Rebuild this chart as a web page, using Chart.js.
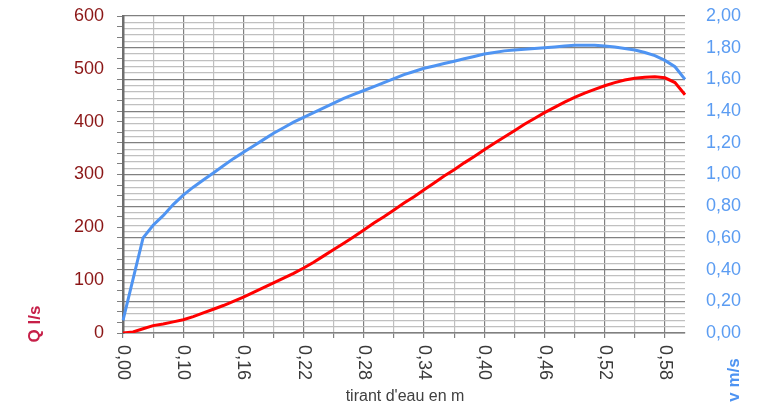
<!DOCTYPE html>
<html lang="fr">
<head>
<meta charset="utf-8">
<title>Q et v en fonction du tirant d'eau</title>
<script src="https://cdn.jsdelivr.net/npm/chart.js@4.4.1/dist/chart.umd.min.js"></script>
<style>
    html, body { margin: 0; padding: 0; background: #ffffff; }
    #wrap { width: 763px; height: 411px; position: relative; }
</style>
</head>
<body>
<div id="wrap"><canvas id="hydroChart"></canvas></div>
<script>
// tirant d'eau (m) - categories of the x axis
const depths = ['0,00', '0,05', '0,06', '0,07', '0,08', '0,09', '0,10', '0,11', '0,12', '0,13',
    '0,14', '0,15', '0,16', '0,17', '0,18', '0,19', '0,20', '0,21', '0,22', '0,23',
    '0,24', '0,25', '0,26', '0,27', '0,28', '0,29', '0,30', '0,31', '0,32', '0,33',
    '0,34', '0,35', '0,36', '0,37', '0,38', '0,39', '0,40', '0,41', '0,42', '0,43',
    '0,44', '0,45', '0,46', '0,47', '0,48', '0,49', '0,50', '0,51', '0,52', '0,53',
    '0,54', '0,55', '0,56', '0,57', '0,58', '0,59', '0,60'];

// debit Q (l/s)
const flow = [0, 2, 8, 14, 17, 21, 25, 31, 38, 45,
    52, 60, 68, 77, 86, 95, 104, 113, 123, 134,
    146, 158, 170, 182, 195, 208, 220, 233, 246, 258,
    271, 284, 297, 309, 322, 334, 347, 359, 371, 383,
    395, 406, 417, 427, 437, 446, 454, 461, 468, 474,
    479, 482, 484, 485, 483, 474, 451];

// vitesse v (m/s)
const speed = [0.08, 0.34, 0.60, 0.68, 0.74, 0.81, 0.87, 0.92, 0.965, 1.01,
    1.055, 1.10, 1.14, 1.18, 1.22, 1.26, 1.295, 1.33, 1.36, 1.39,
    1.42, 1.45, 1.48, 1.505, 1.53, 1.555, 1.58, 1.605, 1.63, 1.65,
    1.67, 1.685, 1.70, 1.715, 1.73, 1.745, 1.76, 1.77, 1.78, 1.785,
    1.79, 1.795, 1.80, 1.805, 1.81, 1.815, 1.815, 1.815, 1.81, 1.805,
    1.795, 1.785, 1.77, 1.75, 1.72, 1.68, 1.60];

const FONT = '"Liberation Sans", Arial, sans-serif';
const DARK_GRID = '#808080';
const LIGHT_GRID = '#c0c0c0';

// fixed box sizes so the plot area sits where the original one does
function fitVertical(width) {
    return s => {
        s.width = width;
        s.paddingTop = 16;
        s.paddingBottom = 0;
    };
}

document.addEventListener('DOMContentLoaded', () => {
    // x tick labels (rotated clockwise) and the three axis titles
    const labelsPlugin = {
        id: 'labelsPlugin',
        afterDraw(chart) {
            const c = chart.ctx;
            const xs = chart.scales.x;
            c.save();
            c.fillStyle = '#3a3a3a';
            c.font = '18px ' + FONT;
            c.textAlign = 'left';
            c.textBaseline = 'middle';
            depths.forEach((d, i) => {
                if (i % 6 !== 0) return;
                const px = xs.getPixelForTick(i);
                c.save();
                c.translate(px, chart.chartArea.bottom + 12);
                c.rotate(Math.PI / 2);
                c.fillText(d, 0, 0);
                c.restore();
            });

            c.textAlign = 'center';
            c.font = '16px ' + FONT;
            c.fillStyle = '#404040';
            c.fillText("tirant d'eau en m", 405, 397);

            c.font = 'bold 17px ' + FONT;
            c.fillStyle = '#c61f48';
            c.save();
            c.translate(35, 324);
            c.rotate(-Math.PI / 2);
            c.fillText('Q l/s', 0, 0);
            c.restore();

            c.fillStyle = '#4d93f2';
            c.save();
            c.translate(734, 380);
            c.rotate(-Math.PI / 2);
            c.fillText('v m/s', 0, 0);
            c.restore();
            c.restore();
        }
    };

    const ctx = document.getElementById('hydroChart').getContext('2d');
    const hydroChart = new Chart(ctx, {
        type: 'line',
        data: {
            labels: depths,
            datasets: [{
                label: 'Q l/s',
                data: flow,
                yAxisID: 'y',
                borderColor: '#ff0000',
                borderWidth: 3,
                pointRadius: 0,
                tension: 0
            }, {
                label: 'v m/s',
                data: speed,
                yAxisID: 'y1',
                borderColor: '#4f94f2',
                borderWidth: 3,
                pointRadius: 0,
                tension: 0
            }]
        },
        options: {
            responsive: true,
            maintainAspectRatio: false,
            animation: false,
            layout: { padding: { top: 16, left: 0, right: 0, bottom: 0 } },
            plugins: {
                legend: { display: false },
                tooltip: { enabled: false }
            },
            scales: {
                x: {
                    type: 'category',
                    offset: false,
                    afterFit: s => { s.height = 78; },
                    ticks: { display: false, autoSkip: false },
                    grid: {
                        color: c => c.index % 6 === 0 ? DARK_GRID : (c.index % 3 === 0 ? LIGHT_GRID : 'rgba(0,0,0,0)'),
                        tickColor: c => c.index % 3 === 0 ? DARK_GRID : 'rgba(0,0,0,0)',
                        tickLength: 5,
                        lineWidth: 1.2
                    },
                    border: { display: true, color: DARK_GRID, width: 1.5 }
                },
                y: {
                    position: 'left',
                    min: 0,
                    max: 600,
                    afterFit: fitVertical(123),
                    ticks: {
                        stepSize: 20,
                        autoSkip: false,
                        padding: 13,
                        color: '#8b1616',
                        font: { family: FONT, size: 18 },
                        callback: v => v % 100 === 0 ? String(v) : ''
                    },
                    grid: {
                        drawOnChartArea: false,
                        drawTicks: true,
                        tickLength: 6,
                        tickColor: DARK_GRID
                    },
                    border: { display: true, color: '#6e6e6e', width: 2.5 }
                },
                y1: {
                    position: 'right',
                    min: 0,
                    max: 2,
                    afterFit: fitVertical(78),
                    ticks: {
                        stepSize: 0.04,
                        autoSkip: false,
                        padding: 21,
                        color: '#5b9cf2',
                        font: { family: FONT, size: 18 },
                        callback: v => Math.round(v * 100) % 20 === 0 ? v.toFixed(2).replace('.', ',') : ''
                    },
                    grid: {
                        drawTicks: false,
                        color: c => Math.round(c.tick.value * 100) % 20 === 0 ? DARK_GRID : LIGHT_GRID,
                        lineWidth: 1.2
                    },
                    border: { display: false }
                }
            }
        },
        plugins: [labelsPlugin]
    });
});
</script>
</body>
</html>
